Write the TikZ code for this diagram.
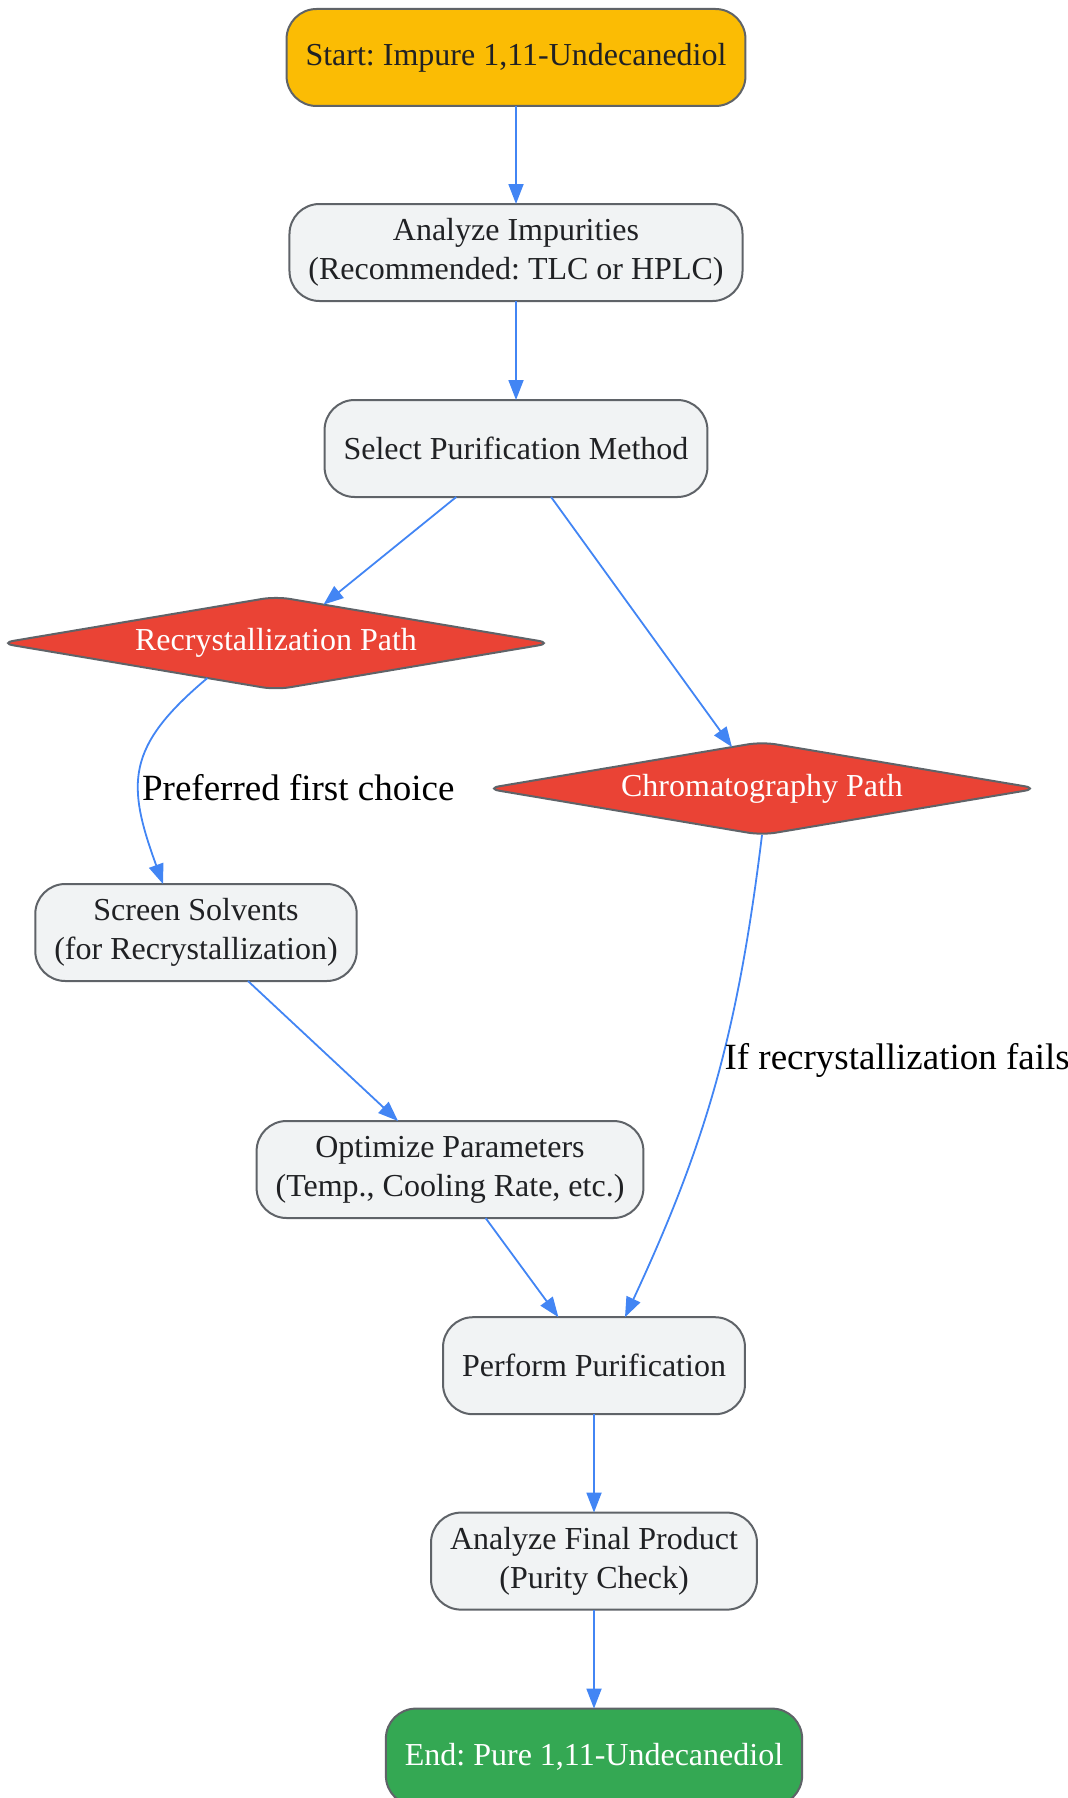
\documentclass[tikz,border=0pt]{standalone}
\usepackage{fontspec}
\setmainfont{Liberation Serif}
\frenchspacing
\usetikzlibrary{arrows.meta,shapes.geometric,positioning}
\definecolor{flowblue}{HTML}{4285F4}
\definecolor{flowgray}{HTML}{5F6368}
\definecolor{flowtext}{HTML}{202124}
\definecolor{flowlight}{HTML}{F1F3F4}
\definecolor{flowyellow}{HTML}{FBBC04}
\definecolor{flowred}{HTML}{EA4335}
\definecolor{flowgreen}{HTML}{34A853}
\tikzstyle{arrow} = [line width=0.9pt,-{Triangle[length=10pt,width=7.5pt]},color=flowblue]
\tikzstyle{stepbox} = [rectangle, rounded corners=15pt, minimum height=48.5pt, inner xsep=9.5pt, inner ysep=4pt, outer sep=0pt, align=center, draw=flowgray, fill=flowlight, line width=1pt, text=flowtext, font=\fontsize{16}{19.5}\selectfont]
\tikzstyle{pathbox} = [diamond, aspect=6, inner sep=1pt, outer sep=0pt, minimum width=276pt, minimum height=46.5pt, rounded corners=7pt, draw=flowgray, fill=flowred, line width=1pt, text=white, font=\fontsize{16}{19.5}\selectfont]
\tikzstyle{edgelabel} = [inner sep=1pt, anchor=west, text=black, font=\fontsize{18.5}{22}\selectfont]

\begin{document}
\begin{tikzpicture}
\useasboundingbox (0,0) rectangle (534pt,-899pt);
% Start
\node[stepbox, fill=flowyellow] (start) at (258pt,-28.75pt) {Start: Impure 1,11-Undecanediol};
% Analysis and choice of method
\node[stepbox, below=49pt of start] (impur) {Analyze Impurities\\(Recommended: TLC or HPLC)};
\node[stepbox, below=49.5pt of impur] (select) {Select Purification Method};
% The two paths
\node[pathbox, below=49.8pt of select, xshift=-120pt] (recryst) {Recrystallization Path};
\node[pathbox, below=122.5pt of select, xshift=123pt] (chrom) {Chromatography Path};
% Recrystallization steps
\node[stepbox, below=97.2pt of recryst, xshift=-40pt] (solvents) {Screen Solvents\\(for Recrystallization)};
\node[stepbox, below=70pt of solvents, xshift=127pt] (optimize) {Optimize Parameters\\(Temp., Cooling Rate, etc.)};
% Purification and check
\node[stepbox, below=49.6pt of optimize, xshift=72pt] (perform) {Perform Purification};
\node[stepbox, below=49.2pt of perform] (final) {Analyze Final Product\\(Purity Check)};
% End
\node[stepbox, below=49.5pt of final, fill=flowgreen, text=white] (finish) {End: Pure 1,11-Undecanediol};

\draw[arrow] (start) -- (impur);
\draw[arrow] (impur) -- (select);
\draw[arrow] (select) -- (recryst);
\draw[arrow] (select) -- (chrom);
\draw[arrow] (recryst.-153) to[out=-140, in=110, looseness=1.3] node[edgelabel, pos=0.6] {Preferred first choice} ([xshift=-16.5pt]solvents.north);
\draw[arrow] (chrom.south) to[out=-97, in=65] node[edgelabel, pos=0.45] {If recrystallization fails} ([xshift=15.5pt]perform.north);
\draw[arrow] (solvents) -- (optimize);
\draw[arrow] (optimize) -- (perform);
\draw[arrow] (perform) -- (final);
\draw[arrow] (final) -- (finish);
\end{tikzpicture}
\end{document}
